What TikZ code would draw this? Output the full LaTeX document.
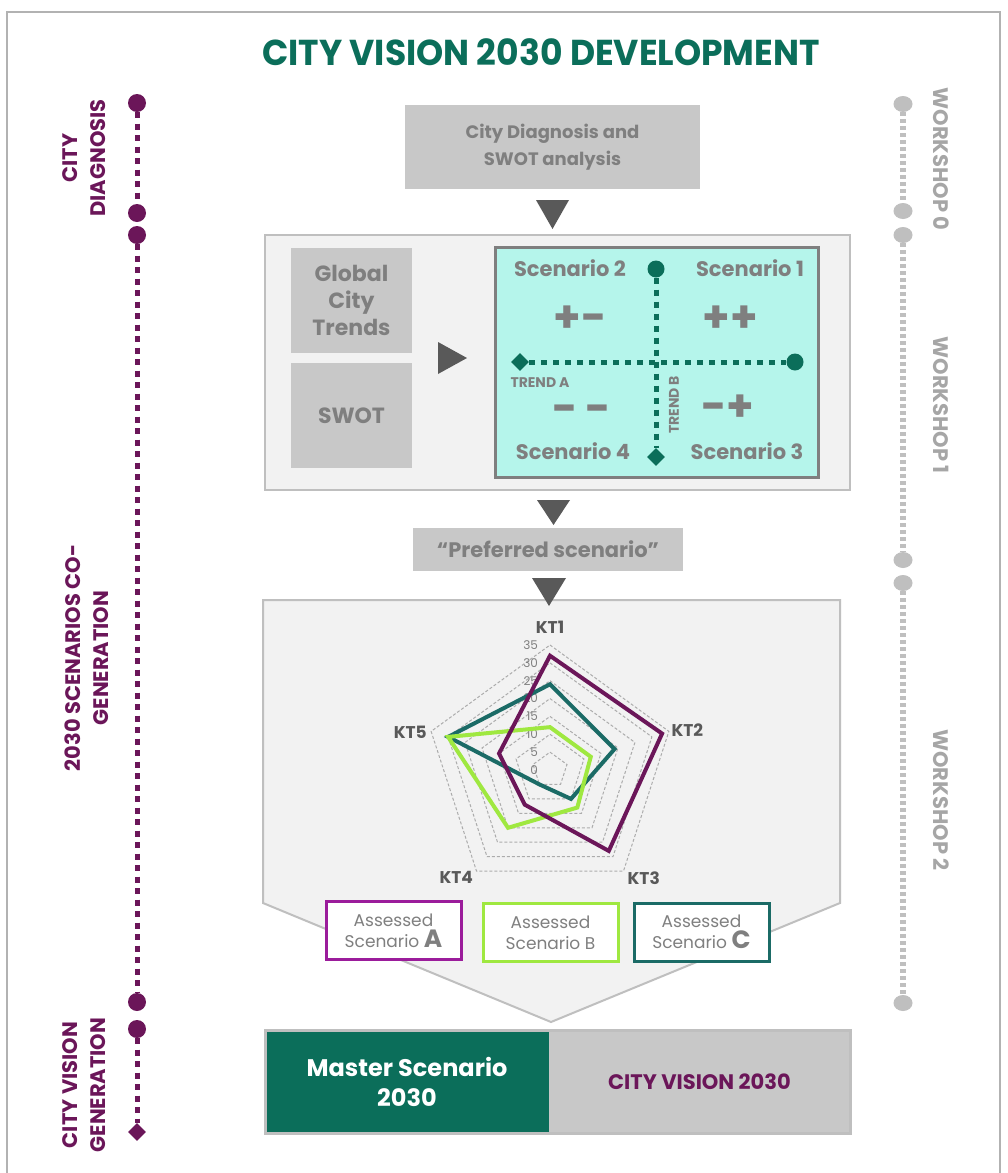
\documentclass[tikz,border=0pt]{standalone}
\usepackage{fontspec}
\setmainfont{Poppins}
\usetikzlibrary{shapes.geometric}

\definecolor{cvteal}{HTML}{0B6E5A}
\definecolor{cvplum}{HTML}{6B1659}
\definecolor{cvgray}{HTML}{7F7F7F}
\definecolor{cvdark}{HTML}{595959}
\definecolor{cvbox}{HTML}{C8C8C8}
\definecolor{cvlight}{HTML}{F2F2F2}
\definecolor{cvline}{HTML}{BFBFBF}
\definecolor{cvws}{HTML}{A6A6A6}
\definecolor{cvaqua}{HTML}{B5F5EB}
\definecolor{cvmag}{HTML}{9B1C9B}
\definecolor{cvlime}{HTML}{9FE840}
\definecolor{cvpine}{HTML}{1B6B66}
\newcommand{\fsz}[2]{\fontsize{#1}{#2}\selectfont}

\begin{document}
\begin{tikzpicture}[x=1pt,y=-1pt,
  greybox/.style={fill=cvbox, text=cvgray, align=center, inner sep=0pt},
  sctext/.style={text=cvgray, font=\fsz{21}{22}\bfseries},
  sign/.style={text=cvgray, font=\fsz{44}{44}\bfseries},
  trend/.style={text=cvgray, font=\fsz{14}{14}\bfseries, inner sep=1pt},
  tdot/.style={circle, fill=cvteal, inner sep=0pt, minimum size=17pt},
  tdia/.style={diamond, fill=cvteal, inner sep=0pt, minimum size=18pt},
  tline/.style={cvteal, line width=5pt, dash pattern=on 6pt off 6pt},
  pdot/.style={circle, fill=cvplum, inner sep=0pt, minimum size=18pt},
  pdia/.style={diamond, fill=cvplum, inner sep=0pt, minimum size=18pt},
  pline/.style={cvplum, line width=5pt, dash pattern=on 6pt off 5.5pt},
  gdot/.style={ellipse, fill=cvline, inner sep=0pt, minimum width=19pt, minimum height=16pt},
  gline/.style={cvline, line width=6pt, dash pattern=on 4pt off 3pt},
  phase/.style={text=cvplum, align=center, font=\fsz{21}{28}\bfseries},
  wshop/.style={text=cvws, font=\fsz{21}{21}\bfseries},
  ring/.style={cvline!70!gray, line width=1pt, dash pattern=on 3pt off 2pt},
  tick/.style={text=cvgray, anchor=east, font=\fsz{12}{12}, inner sep=0pt},
  ktlabel/.style={text=cvdark, font=\fsz{17}{17}\bfseries},
  assess/.style={draw, line width=3pt, fill=white, text=cvgray, align=center,
    minimum width=135pt, minimum height=58pt, inner sep=0pt, font=\fsz{17}{21}},
  tri/.style={fill=cvdark}
]
\useasboundingbox (0,0) rectangle (1007,1173);
\fill[white] (0,0) rectangle (1007,1173);
\draw[cvline!80!gray, line width=1.5pt] (7,1173) -- (7,12) -- (1000,12) -- (1000,1173);

\node[text=cvteal, font=\fsz{36}{40}\bfseries] (title) at (541,52) {\scalebox{0.96}[1]{CITY VISION 2030 DEVELOPMENT}};

\node[greybox, minimum width=295pt, minimum height=84pt, font=\fsz{18}{27}\bfseries] (diag) at (552.5,147) {City Diagnosis and\\SWOT analysis};
\fill[tri] (536,200) -- (569,200) -- (552.5,229) -- cycle;

\draw[cvline, fill=cvlight, line width=2pt] (265,235) rectangle (850,490);
\node[greybox, minimum width=121pt, minimum height=105pt, font=\fsz{22}{27}\bfseries] (gct) at (351.5,300.5) {Global\\City\\Trends};
\node[greybox, minimum width=121pt, minimum height=105pt, font=\fsz{22}{27}\bfseries] (swot) at (351.5,415.5) {SWOT};
\fill[tri] (438,342) -- (467,358) -- (438,374) -- cycle;
\draw[cvgray, fill=cvaqua, line width=3pt] (495,247) rectangle (818,477);
\node[tdot] (tb1) at (656,269) {};
\node[tdia] (tb2) at (656,457) {};
\node[tdia] (ta1) at (520,362) {};
\node[tdot] (ta2) at (795,362) {};
\draw[tline] (ta1) -- (ta2);
\draw[tline] (tb1) -- (tb2);
\node[sctext] (s2) at (570,268) {Scenario 2};
\node[sctext] (s1) at (750,268) {Scenario 1};
\node[sctext] (s4) at (573,451) {Scenario 4};
\node[sctext] (s3) at (747,451) {Scenario 3};
\node[sign] (pm) at (580,319) {+\mbox{-}};
\node[sign] (pp) at (730,319) {++};
\node[sign] (mm) at (582,414) {\mbox{-}\,\mbox{-}};
\node[sign] (mp) at (728,408) {\mbox{-}+};
\node[trend] (trA) at (540,383) {TREND A};
\node[trend, rotate=90] (trB) at (674,405) {TREND B};

\fill[tri] (537,500) -- (570,500) -- (553.5,525) -- cycle;
\node[greybox, minimum width=270pt, minimum height=43pt, font=\fsz{21}{25}\bfseries] (pref) at (548,549.5) {“Preferred scenario”};

\draw[cvline, fill=cvlight, line width=2pt] (263,600) -- (840,600) -- (840,903) -- (551,1022) -- (263,903) -- cycle;
\fill[tri] (532,578) -- (566,578) -- (549,606) -- cycle;

\begin{scope}[shift={(550,770)}, x=3.5714pt, y=3.5714pt]
\foreach \rv in {5,10,...,35}
  \draw[ring] (90:\rv) -- (18:\rv) -- (-54:\rv) -- (-126:\rv) -- (162:\rv) -- cycle;
\foreach \rv in {0,5,...,35}
  \node[tick] (tick\rv) at (-3.3,\rv) {\rv};
\draw[cvpine, line width=4pt] (90:24) -- (18:19) -- (-54:10) -- (-126:5) -- (162:30) -- cycle;
\draw[cvlime, line width=4pt] (90:12) -- (18:12) -- (-54:13) -- (-126:20) -- (162:30) -- cycle;
\draw[cvplum, line width=4pt] (90:32) -- (18:33) -- (-54:28) -- (-126:12) -- (162:15) -- cycle;
\node[ktlabel] (kt1) at (90:40) {KT1};
\node[ktlabel] (kt2) at (16:40) {KT2};
\node[ktlabel] (kt3) at (-49:40) {KT3};
\node[ktlabel] (kt4) at (-131:40) {KT4};
\node[ktlabel] (kt5) at (165:40.5) {KT5};
\end{scope}

\node[assess, draw=cvmag] (asA) at (393.5,930.5) {Assessed\\Scenario {\fsz{25}{21}\bfseries A}};
\node[assess, draw=cvlime] (asB) at (550.5,932.5) {Assessed\\Scenario B};
\node[assess, draw=cvpine] (asC) at (701.5,932) {Assessed\\Scenario {\fsz{25}{21}\bfseries C}};

\node[fill=cvteal, minimum width=284pt, minimum height=103pt, text=white, align=center, font=\fsz{24}{30}\bfseries] (master) at (407,1081.5) {Master Scenario\\2030};
\node[fill=cvbox, minimum width=301pt, minimum height=103pt, text=cvplum, font=\fsz{21}{24}\bfseries] (vision) at (699.5,1081.5) {CITY VISION 2030};
\draw[cvline, line width=3pt] (265,1030) rectangle (850,1133);

\node[pdot] (p1) at (137,103) {};
\node[pdot] (p2) at (137,213) {};
\node[pdot] (p3) at (137,235) {};
\node[pdot] (p4) at (137,1002) {};
\node[pdot] (p5) at (137,1029) {};
\node[pdia] (p6) at (137,1132) {};
\draw[pline] (p1) -- (p2);
\draw[pline] (p3) -- (p4);
\draw[pline] (p5) -- (p6);
\node[phase, rotate=90] (ph1) at (84,158) {CITY\\DIAGNOSIS};
\node[phase, rotate=90] (ph2) at (87,658) {2030 SCENARIOS CO-\\GENERATION};
\node[phase, rotate=90] (ph3) at (84,1085) {CITY VISION\\GENERATION};

\node[gdot] (g1) at (903,104) {};
\node[gdot] (g2) at (903,211) {};
\node[gdot] (g3) at (903,235) {};
\node[gdot] (g4) at (903,560) {};
\node[gdot] (g5) at (903,583) {};
\node[gdot] (g6) at (903,1003) {};
\draw[gline] (g1) -- (g2);
\draw[gline] (g3) -- (g4);
\draw[gline] (g5) -- (g6);
\node[wshop, rotate=-90] (w0) at (941,159) {WORKSHOP 0};
\node[wshop, rotate=-90] (w1) at (941,405) {WORKSHOP 1};
\node[wshop, rotate=-90] (w2) at (941,800) {WORKSHOP 2};
\end{tikzpicture}
\end{document}
